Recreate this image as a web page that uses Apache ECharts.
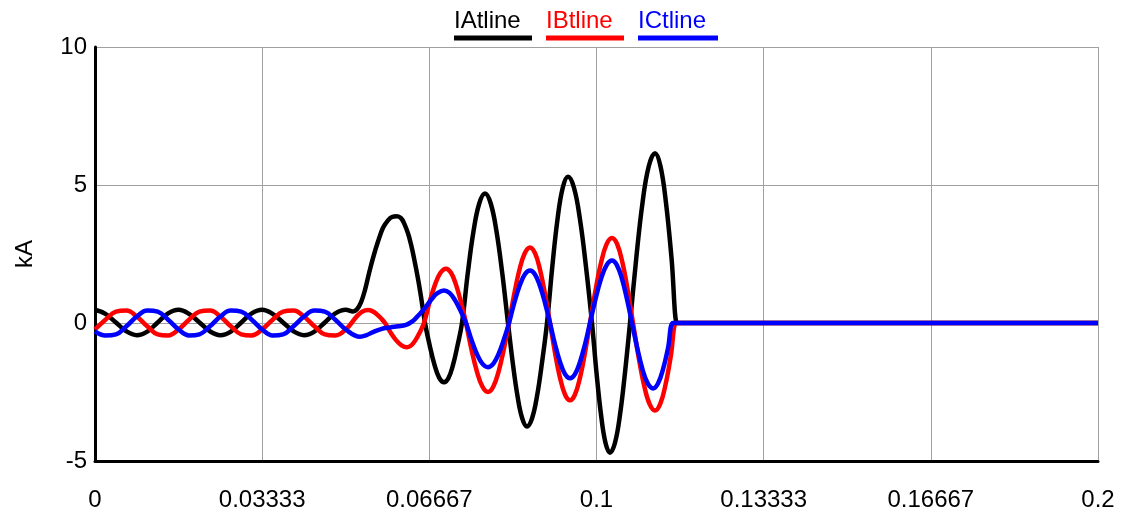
<!DOCTYPE html>
<html>
<head>
<meta charset="utf-8">
<script src="https://cdn.jsdelivr.net/npm/echarts@6/dist/echarts.min.js"></script>
<style>
html,body{margin:0;padding:0;background:#fff;}
#chart{width:1121px;height:521px;}
</style>
</head>
<body>
<div id="chart"></div>
<script>
// ---- data (time in s, current in kA) ----
const seriesNames = ['IAtline', 'IBtline', 'ICtline'];
const xTickLabels = ['0', '0.03333', '0.06667', '0.1', '0.13333', '0.16667', '0.2'];

// pre-fault samples (shared time base)
const tPre = [0, 0.00208, 0.00417, 0.00625, 0.00833, 0.01042, 0.0125, 0.01458,
  0.01667, 0.01875, 0.02083, 0.02292, 0.025, 0.02708, 0.02917, 0.03125,
  0.03333, 0.03542, 0.0375, 0.03958, 0.04167, 0.04375, 0.04583, 0.04792, 0.05];
const iAPre = [0.48, 0.33, 0.02, -0.3, -0.44, -0.31, 0.02, 0.35,
  0.48, 0.33, 0.02, -0.3, -0.44, -0.31, 0.02, 0.35,
  0.48, 0.33, 0.02, -0.3, -0.44, -0.31, 0.02, 0.35, 0.48];
const iBPre = [-0.235, 0.12, 0.41, 0.45, 0.235, -0.12, -0.41, -0.45,
  -0.235, 0.12, 0.41, 0.45, 0.235, -0.12, -0.41, -0.45,
  -0.235, 0.12, 0.41, 0.45, 0.235, -0.12, -0.41, -0.45, -0.235];
const iCPre = [-0.3, -0.45, -0.41, -0.12, 0.235, 0.45, 0.41, 0.12,
  -0.235, -0.45, -0.41, -0.12, 0.235, 0.45, 0.41, 0.12,
  -0.235, -0.45, -0.41, -0.12, 0.235, 0.45, 0.41, 0.12, -0.235];

// fault period, phase A
const tAPost = [0.05145, 0.05224, 0.05304, 0.05384, 0.05464, 0.05543, 0.05643, 0.05743, 0.05842, 0.05922,
  0.06022, 0.06102, 0.06162, 0.06241, 0.06301, 0.06361, 0.06441, 0.06501, 0.0658,
  0.06675, 0.0677, 0.06864, 0.06959, 0.07049, 0.07139, 0.07228, 0.07318,
  0.07433, 0.07547, 0.07662, 0.07777, 0.07891, 0.08006, 0.08121, 0.08235,
  0.0833, 0.08425, 0.0852, 0.08614, 0.08714, 0.08814, 0.08913, 0.09013,
  0.09118, 0.09222, 0.09327, 0.09432, 0.09551, 0.09671, 0.09791, 0.0991,
  0.1, 0.1009, 0.10179, 0.10269, 0.10369, 0.10469, 0.10568, 0.10668,
  0.10793, 0.10917, 0.11042, 0.11167, 0.11276, 0.11386, 0.11496, 0.11605,
  0.11635, 0.2];
const iAPost = [0.42, 0.5, 0.75, 1.2, 1.8, 2.35, 2.95, 3.45, 3.72, 3.84,
  3.87, 3.8, 3.62, 3.25, 2.85, 2.35, 1.6, 0.95, 0,
  -0.82, -1.52, -1.99, -2.15, -1.99, -1.52, -0.82, 0,
  1.8, 3.32, 4.33, 4.69, 4.33, 3.32, 1.8, 0,
  -1.44, -2.65, -3.46, -3.75, -3.46, -2.65, -1.44, 0,
  2.03, 3.75, 4.9, 5.3, 4.9, 3.75, 2.03, 0,
  -1.8, -3.32, -4.34, -4.7, -4.34, -3.32, -1.8, 0,
  2.35, 4.35, 5.68, 6.15, 5.68, 4.35, 2.35, 0,
  0, 0];

// fault period, phase B
const tBPost = [0.05224, 0.05334, 0.05444, 0.05528, 0.05613, 0.05698, 0.05783,
  0.05892, 0.06002, 0.06112, 0.06221, 0.06306, 0.06391, 0.06476, 0.0656,
  0.0667, 0.0678, 0.06889, 0.06999, 0.07099, 0.07198, 0.07298, 0.07398,
  0.07507, 0.07617, 0.07727, 0.07836, 0.07941, 0.08046, 0.08151, 0.08255,
  0.0836, 0.08465, 0.08569, 0.08674, 0.08774, 0.08873, 0.08973, 0.09073,
  0.09172, 0.09272, 0.09372, 0.09472, 0.09571, 0.09671, 0.09771, 0.0987,
  0.0998, 0.1009, 0.10199, 0.10309, 0.10414, 0.10518, 0.10623, 0.10728,
  0.10837, 0.10947, 0.11057, 0.11167, 0.11271, 0.11376, 0.11481, 0.11585,
  0.11635, 0.2];
const iBPost = [0.25, 0.42, 0.47, 0.43, 0.33, 0.18, 0,
  -0.34, -0.62, -0.81, -0.88, -0.81, -0.62, -0.34, 0,
  0.75, 1.39, 1.82, 1.97, 1.82, 1.39, 0.75, 0,
  -0.96, -1.77, -2.31, -2.5, -2.31, -1.77, -0.96, 0,
  1.05, 1.94, 2.53, 2.74, 2.53, 1.94, 1.05, 0,
  -1.07, -1.98, -2.59, -2.8, -2.59, -1.98, -1.07, 0,
  1.18, 2.18, 2.85, 3.08, 2.85, 2.18, 1.18, 0,
  -1.21, -2.24, -2.93, -3.17, -2.93, -2.24, -1.21, 0,
  0, 0];

// fault period, phase C
const tCPost = [0.05284, 0.05404, 0.05543, 0.05703, 0.05882, 0.06042, 0.06201, 0.06321, 0.06421, 0.0652,
  0.0662, 0.0672, 0.0682, 0.06959, 0.07069, 0.07178, 0.07288, 0.07398,
  0.07507, 0.07617, 0.07727, 0.07836, 0.07941, 0.08046, 0.08151, 0.08255,
  0.0836, 0.08465, 0.08569, 0.08674, 0.08774, 0.08873, 0.08973, 0.09073,
  0.09172, 0.09272, 0.09372, 0.09472, 0.09571, 0.09671, 0.09771, 0.0987,
  0.0998, 0.1009, 0.10199, 0.10309, 0.10409, 0.10508, 0.10608, 0.10708,
  0.10813, 0.10917, 0.11022, 0.11127, 0.11226, 0.11326, 0.11426, 0.11526,
  0.11635, 0.2];
const iCPost = [-0.5, -0.45, -0.33, -0.22, -0.16, -0.12, -0.07, 0.05, 0.22, 0.42,
  0.64, 0.88, 1.07, 1.18, 1.09, 0.83, 0.45, 0,
  -0.61, -1.13, -1.48, -1.6, -1.48, -1.13, -0.61, 0,
  0.73, 1.34, 1.76, 1.9, 1.76, 1.34, 0.73, 0,
  -0.77, -1.41, -1.85, -2.0, -1.85, -1.41, -0.77, 0,
  0.86, 1.6, 2.09, 2.26, 2.09, 1.6, 0.86, 0,
  -0.91, -1.68, -2.19, -2.37, -2.19, -1.68, -0.91, 0,
  0, 0];

const colors = ['#000000', '#ff0000', '#0000ff'];

// ---- build ----
function pairs(ts, vs) { return ts.map((t, i) => [t, vs[i]]); }
const dataA = pairs(tPre.concat(tAPost), iAPre.concat(iAPost));
const dataB = pairs(tPre.concat(tBPost), iBPre.concat(iBPost));
const dataC = pairs(tPre.concat(tCPost), iCPre.concat(iCPost));
const allData = [dataA, dataB, dataC];

const FONT = '"Liberation Sans", Arial, sans-serif';
const keys = ['a', 'b', 'c'];
const underlineW = [78, 78, 80];
const rich = {};
keys.forEach((k, i) => {
  rich['t' + k] = { fontSize: 24, fontFamily: FONT, color: colors[i], lineHeight: 26 };
  rich['u' + k] = { width: underlineW[i], height: 5, backgroundColor: colors[i], lineHeight: 8 };
});

const chart = echarts.init(document.getElementById('chart'), null, { renderer: 'canvas' });
chart.setOption({
  animation: false,
  backgroundColor: '#ffffff',
  grid: { left: 95, right: 23, top: 47, bottom: 60, containLabel: false },
  legend: {
    left: 448, top: 9, padding: 0,
    itemWidth: 0, itemHeight: 0, itemGap: 8,
    selectedMode: false,
    data: seriesNames,
    formatter: function (name) {
      const k = keys[seriesNames.indexOf(name)];
      return '{t' + k + '|' + name + '}\n{u' + k + '|}';
    },
    textStyle: { rich: rich }
  },
  xAxis: {
    type: 'value', min: 0, max: 0.2, interval: 0.2 / 6,
    axisLine: { show: true, onZero: false, lineStyle: { color: '#000', width: 3 } },
    axisTick: { show: false },
    splitLine: { show: true, lineStyle: { color: '#a0a0a0', width: 1 } },
    axisLabel: {
      margin: 27, fontSize: 24, fontFamily: FONT, color: '#000',
      formatter: function (v) { return xTickLabels[Math.round(v / (0.2 / 6))]; }
    }
  },
  yAxis: {
    type: 'value', min: -5, max: 10, interval: 5,
    name: 'kA', nameLocation: 'middle', nameGap: 58,
    nameTextStyle: { fontSize: 24, fontFamily: FONT, color: '#000' },
    axisLine: { show: true, onZero: false, lineStyle: { color: '#000', width: 3 } },
    axisTick: { show: false },
    splitLine: { show: true, lineStyle: { color: '#a0a0a0', width: 1 } },
    axisLabel: { margin: 8, fontSize: 24, fontFamily: FONT, color: '#000' }
  },
  series: seriesNames.map((n, i) => ({
    name: n, type: 'line', data: allData[i],
    smooth: 0.4, showSymbol: false, symbol: 'none',
    lineStyle: { color: colors[i], width: 4.5 },
    itemStyle: { color: colors[i] },
    z: 2 + i
  }))
});
</script>
</body>
</html>
